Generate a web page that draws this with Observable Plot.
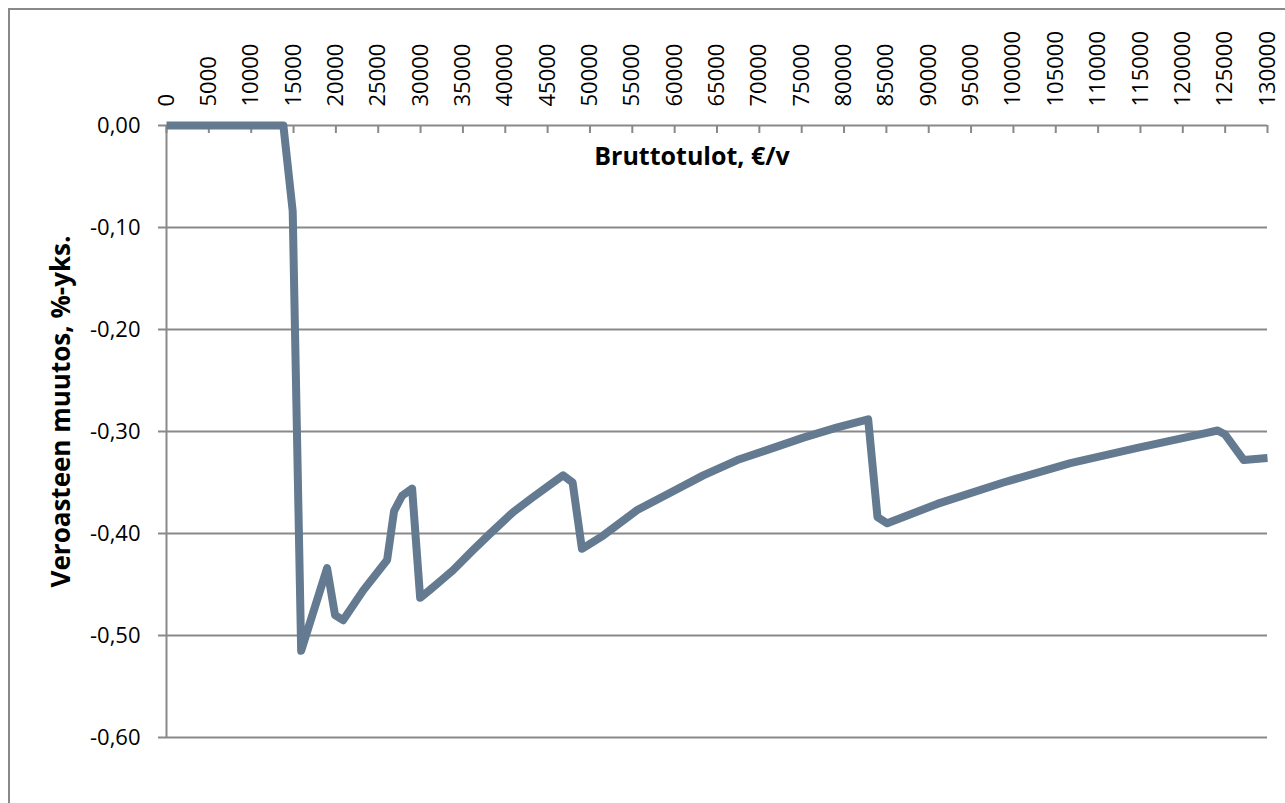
<!DOCTYPE html>
<html>
<head>
<meta charset="utf-8">
<script src="https://cdn.jsdelivr.net/npm/d3@7"></script>
<script src="https://cdn.jsdelivr.net/npm/@observablehq/plot@0.6"></script>
<style>
  html, body { margin: 0; padding: 0; background: #fff; overflow: hidden; }
  #wrap { position: relative; width: 1285px; height: 803px; overflow: hidden; }
  #frame { position: absolute; left: 8px; top: 8px; width: 1300px; height: 820px; border: 2px solid #898989; box-sizing: border-box; }
  #chart { position: absolute; left: 0; top: 0; }
</style>
</head>
<body>
<div id="wrap"><div id="frame"></div><div id="chart"></div></div>
<script>
const income = [0, 5000, 10000, 13800, 14900, 15900, 18960, 19900, 20850, 23210, 26050, 26870, 27820, 29000, 29950, 31000, 32000, 33830, 36100, 38220, 40930, 43000, 45000, 46840, 47950, 49050, 51560, 55580, 59480, 63380, 67400, 71300, 75200, 79220, 82850, 83950, 85100, 91010, 98820, 106730, 114640, 122440, 124100, 125000, 127200, 130000];
const change = [0, 0, 0, 0, -0.084, -0.515, -0.434, -0.480, -0.485, -0.456, -0.426, -0.378, -0.363, -0.356, -0.463, -0.456, -0.449, -0.436, -0.417, -0.400, -0.379, -0.366, -0.354, -0.343, -0.350, -0.415, -0.402, -0.377, -0.360, -0.343, -0.328, -0.317, -0.306, -0.296, -0.288, -0.384, -0.390, -0.371, -0.350, -0.331, -0.316, -0.302, -0.299, -0.303, -0.328, -0.326];
const xTicks = d3.range(0, 130001, 5000);
const yTicks = [0, -0.1, -0.2, -0.3, -0.4, -0.5, -0.6];
const xTitle = "Bruttotulot, €/v";
const yTitle = "Veroasteen muutos, %-yks.";

const data = income.map((x, i) => ({x, y: change[i]}));
const fmtY = d => d.toFixed(2).replace(".", ",").replace("−", "-");
const grid = "#898989";
const tickLen = 0.6 * 8 / 612;

const chart = Plot.plot({
  width: 1285,
  height: 803,
  marginLeft: 166,
  marginRight: 18,
  marginTop: 125,
  marginBottom: 66,
  x: {domain: [0, 130000]},
  y: {domain: [-0.6, 0]},
  style: {fontFamily: "'Open Sans', sans-serif", fontSize: "22px", color: "#000", background: "transparent", overflow: "visible"},
  marks: [
    Plot.ruleY(yTicks, {stroke: grid, strokeWidth: 2}),
    Plot.ruleX([0], {stroke: grid, strokeWidth: 2}),
    Plot.ruleX(xTicks, {x: d => d, y1: 0, y2: -tickLen, stroke: grid, strokeWidth: 2}),
    Plot.axisX({anchor: "top", ticks: xTicks, tickSize: 0, tickRotate: -90, tickPadding: 19, tickFormat: d => String(d), label: null, fill: "#000"}),
    Plot.axisY({ticks: yTicks, tickSize: 8, tickPadding: 18, tickFormat: fmtY, label: null, stroke: grid, strokeWidth: 2, fill: "#000"}),
    Plot.line(data, {x: "x", y: "y", stroke: "#637a91", strokeWidth: 8, strokeLinejoin: "round", strokeLinecap: "butt"}),
    Plot.text([xTitle], {frameAnchor: "top", dx: -25, dy: 22, fontWeight: "bold", fontSize: 25, fill: "#000"}),
    Plot.text([yTitle], {frameAnchor: "left", dx: -105, dy: -20, rotate: -90, textAnchor: "middle", fontWeight: "bold", fontSize: 26, fill: "#000"})
  ]
});
document.getElementById("chart").appendChild(chart);
</script>
</body>
</html>
